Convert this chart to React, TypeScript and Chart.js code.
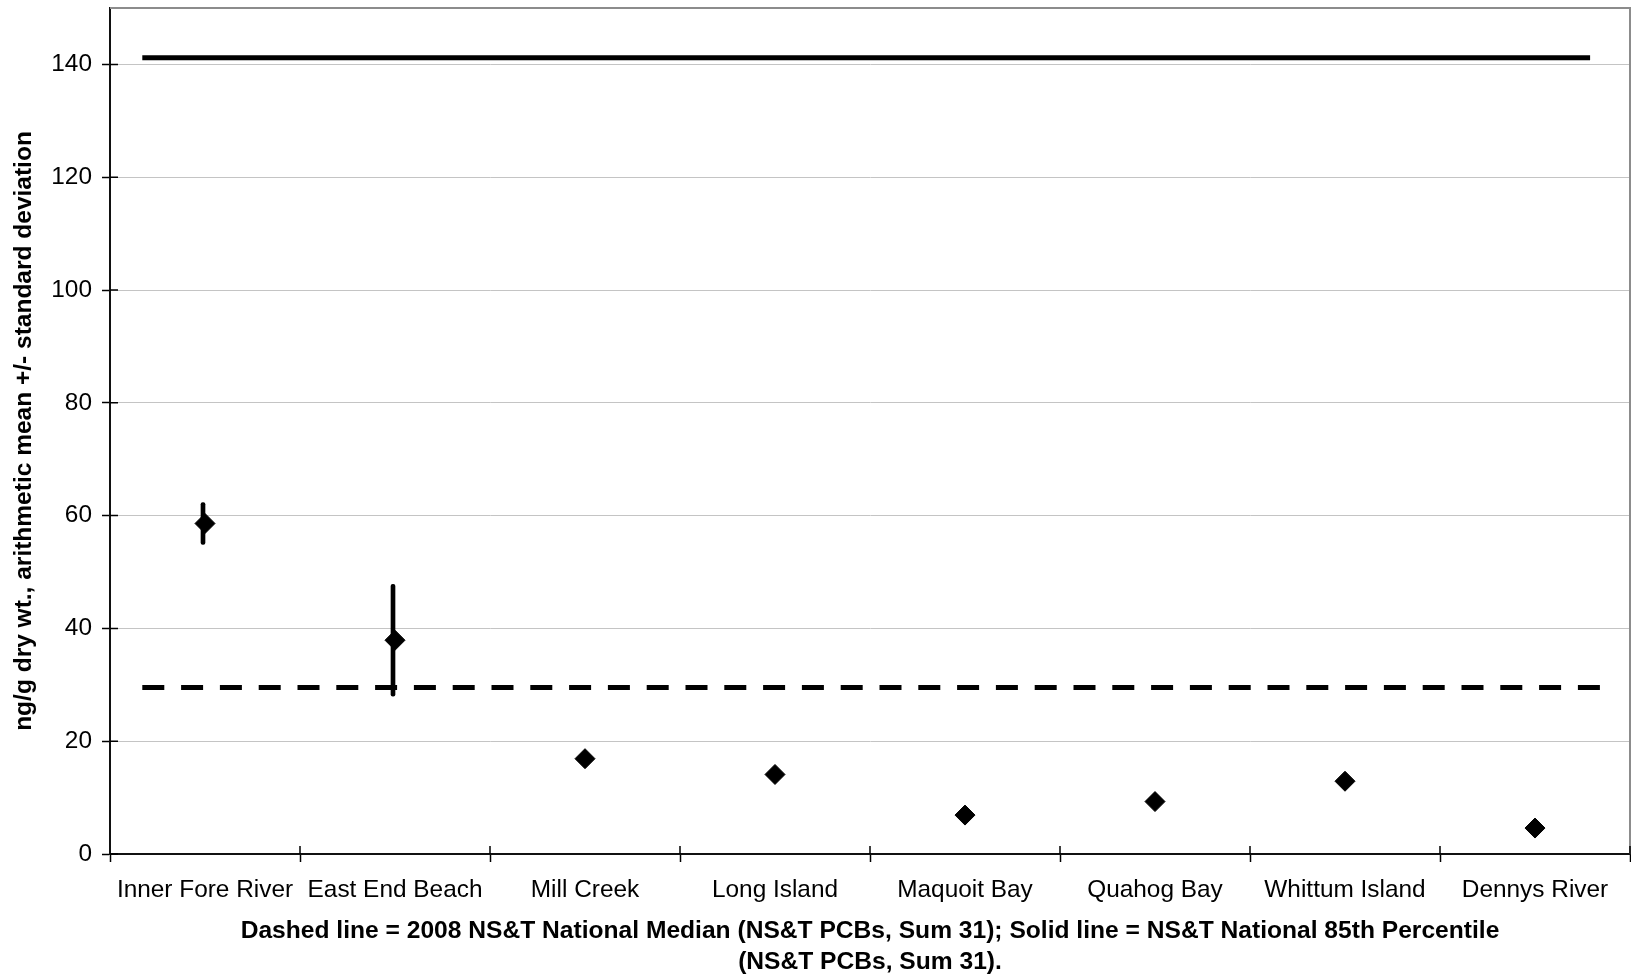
import React, { useEffect, useRef } from 'react';
import { Chart, registerables } from 'chart.js';

Chart.register(...registerables);

const categories = [
  'Inner Fore River',
  'East End Beach',
  'Mill Creek',
  'Long Island',
  'Maquoit Bay',
  'Quahog Bay',
  'Whittum Island',
  'Dennys River',
];
const meanValues = [58.6, 37.9, 16.9, 14.1, 6.9, 9.3, 12.9, 4.6];
const sdValues = [3.7, 9.9, 0, 0, 0, 0, 0, 0];
const medianValue = 29.5;
const percentile85Value = 141.2;
const medianSpan = [0.67, 8.35];
const percentile85Span = [0.67, 8.29];
const yMin = 0;
const yMax = 150;
const yStep = 20;
const yTitle = 'ng/g dry wt., arithmetic mean +/- standard deviation';
const xTitleLines = [
  'Dashed line = 2008 NS&T National Median (NS&T PCBs, Sum 31); Solid line = NS&T National 85th Percentile',
  '(NS&T PCBs, Sum 31).',
];

const FONT = "'Liberation Sans', Arial, sans-serif";

const framePlugin = {
  id: 'frame',
  beforeDatasetsDraw(chart: any) {
    const { ctx, chartArea: a, scales } = chart;
    ctx.save();
    ctx.strokeStyle = '#8c8c8c';
    ctx.lineWidth = 2;
    ctx.beginPath();
    ctx.moveTo(a.left, a.top);
    ctx.lineTo(a.right, a.top);
    ctx.lineTo(a.right, a.bottom);
    ctx.stroke();

    ctx.strokeStyle = '#000';
    ctx.lineWidth = 1.5;
    ctx.beginPath();
    const ys = scales.y;
    ys.ticks.forEach((_t: any, i: number) => {
      const py = ys.getPixelForTick(i);
      ctx.moveTo(a.left, py);
      ctx.lineTo(a.left + 8, py);
    });
    const xs = scales.x;
    const n = xs.ticks.length;
    for (let i = 1; i <= n; i++) {
      const px = a.left + ((a.right - a.left) * i) / n;
      ctx.moveTo(px, a.bottom);
      ctx.lineTo(px, a.bottom - 8);
    }
    ctx.stroke();
    ctx.restore();
  },
};

export default function App() {
  const ref = useRef<HTMLCanvasElement | null>(null);

  useEffect(() => {
    if (!ref.current) return;
    const errorRanges = meanValues.map((m, i) =>
      sdValues[i] ? [m - sdValues[i], m + sdValues[i]] : null
    );
    const chart = new Chart(ref.current, {
      type: 'bar',
      data: {
        labels: categories,
        datasets: [
          {
            type: 'line',
            data: meanValues,
            showLine: false,
            pointStyle: 'rectRot',
            pointRadius: 10,
            pointBackgroundColor: '#000',
            pointBorderColor: '#000',
            pointBorderWidth: 1,
            order: 0,
          } as any,
          {
            type: 'bar',
            data: errorRanges as any,
            backgroundColor: '#000',
            barThickness: 4,
            borderRadius: 2,
            borderSkipped: false,
            order: 1,
          },
          {
            type: 'line',
            xAxisID: 'x2',
            data: medianSpan.map((x) => ({ x, y: medianValue })),
            borderColor: '#000',
            borderWidth: 5,
            borderDash: [22, 16.8],
            pointRadius: 0,
            order: 2,
          } as any,
          {
            type: 'line',
            xAxisID: 'x2',
            data: percentile85Span.map((x) => ({ x, y: percentile85Value })),
            borderColor: '#000',
            borderWidth: 5,
            pointRadius: 0,
            order: 2,
          } as any,
        ],
      },
      options: {
        animation: false,
        responsive: false,
        layout: { autoPadding: false, padding: { top: 8, right: 1, left: 0, bottom: 0 } },
        plugins: { legend: { display: false }, tooltip: { enabled: false } },
        scales: {
          x: {
            type: 'category',
            offset: true,
            afterFit: (s: any) => {
              s.height = 125;
              s.paddingLeft = 0;
              s.paddingRight = 0;
            },
            grid: {
              display: true,
              offset: true,
              drawOnChartArea: false,
              drawTicks: true,
              tickLength: 8,
              tickColor: '#000',
              tickWidth: 1.5,
            },
            border: { display: true, color: '#111', width: 2 },
            ticks: {
              color: '#000',
              padding: 14,
              maxRotation: 0,
              autoSkip: false,
              font: { family: FONT, size: 24.4 },
            },
            title: {
              display: true,
              text: xTitleLines,
              color: '#000',
              padding: { top: 0, bottom: 1 },
              font: { family: FONT, size: 24.6, weight: 'bold', lineHeight: 1.26 },
            },
          },
          x2: {
            type: 'linear',
            display: false,
            offset: false,
            min: 0.5,
            max: 8.5,
            afterFit: (s: any) => {
              s.paddingLeft = 0;
              s.paddingRight = 0;
            },
          },
          y: {
            type: 'linear',
            min: yMin,
            max: yMax,
            afterFit: (s: any) => {
              s.width = 110;
              s.paddingTop = 0;
              s.paddingBottom = 0;
            },
            grid: {
              color: '#c4c4c4',
              lineWidth: 1,
              tickLength: 8,
              tickColor: '#000',
              tickWidth: 1.5,
            },
            border: { display: true, color: '#111', width: 2 },
            ticks: {
              stepSize: yStep,
              includeBounds: false,
              color: '#000',
              padding: 10,
              font: { family: FONT, size: 24.4 },
            },
            title: {
              display: true,
              text: yTitle,
              color: '#000',
              padding: { top: 10, bottom: 0 },
              font: { family: FONT, size: 24.5, weight: 'bold', lineHeight: 1.2 },
            },
          },
        },
      },
      plugins: [framePlugin],
    });
    return () => chart.destroy();
  }, []);

  return (
    <div style={{ position: 'absolute', left: 0, top: 0, width: 1631, height: 979 }}>
      <canvas ref={ref} width={1631} height={979} />
    </div>
  );
}
